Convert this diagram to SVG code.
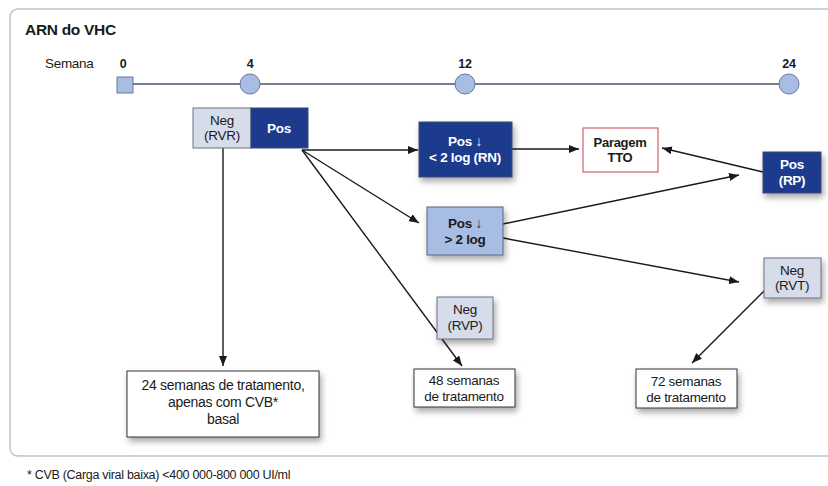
<svg xmlns="http://www.w3.org/2000/svg" width="828" height="486" viewBox="0 0 828 486">
<defs>
<marker id="ah" viewBox="0 0 10 8" refX="10" refY="4" markerWidth="10" markerHeight="8" markerUnits="userSpaceOnUse" orient="auto">
<path d="M0,0 L10,4 L0,8 Z" fill="#1a1a1a"/>
</marker>
<filter id="sh" x="-20%" y="-20%" width="150%" height="160%">
<feGaussianBlur in="SourceAlpha" stdDeviation="3"/>
<feOffset dx="2" dy="4" result="b"/>
<feComponentTransfer><feFuncA type="linear" slope="0.35"/></feComponentTransfer>
<feMerge><feMergeNode/><feMergeNode in="SourceGraphic"/></feMerge>
</filter>
</defs>
<style>
text{font-family:"Liberation Sans",Arial,sans-serif;fill:#1a1a1a;letter-spacing:-0.3px}
.b{font-weight:bold}
.w{fill:#ffffff;font-weight:bold}
.c{text-anchor:middle}
.dark{fill:#1e3a8c;stroke:#3a4a70;stroke-width:1}
.lite{fill:#d6dcea;stroke:#6a7080;stroke-width:1}
.mid{fill:#a8bde3;stroke:#5a6480;stroke-width:1}
.wb{fill:#ffffff;stroke:#333333;stroke-width:1}
.conn line{stroke:#1a1a1a;stroke-width:1.4;marker-end:url(#ah)}
</style>
<rect x="0" y="0" width="828" height="486" fill="#ffffff"/>
<rect x="10" y="9" width="840" height="447" rx="8" fill="#ffffff" stroke="#b9c4d2" stroke-width="1.5"/>
<text x="25" y="35" class="b" font-size="15.5">ARN do VHC</text>
<g id="timeline">
<text x="45" y="68" font-size="13.5">Semana</text>
<text x="123" y="68" class="b c" font-size="12.5">0</text>
<text x="250" y="68" class="b c" font-size="12.5">4</text>
<text x="465" y="68" class="b c" font-size="12.5">12</text>
<text x="789" y="68" class="b c" font-size="12.5">24</text>
<line x1="132" y1="84" x2="789" y2="84" stroke="#4a5070" stroke-width="1.5"/>
<rect x="117" y="77" width="16" height="16" fill="#a8bde3" stroke="#6a7898"/>
<circle cx="250" cy="84" r="10" fill="#a8bde3" stroke="#6a7898"/>
<circle cx="465" cy="84" r="10" fill="#a8bde3" stroke="#6a7898"/>
<circle cx="789" cy="84" r="10" fill="#a8bde3" stroke="#6a7898"/>
</g>
<g class="conn" id="connectors">
<line x1="223" y1="148" x2="223" y2="366"/>
<line x1="302" y1="150" x2="418" y2="150"/>
<line x1="302" y1="150" x2="419" y2="223"/>
<line x1="302" y1="150" x2="462" y2="366"/>
<line x1="512" y1="149" x2="579" y2="149"/>
<line x1="763" y1="172" x2="662" y2="148"/>
<line x1="503" y1="224" x2="739" y2="175"/>
<line x1="503" y1="238" x2="739" y2="282"/>
<line x1="764" y1="291" x2="692" y2="363"/>
</g>
<g id="neg-rvr">
<rect x="193" y="108" width="58" height="40" class="lite"/>
<text x="222" y="125" class="c" font-size="13.5">Neg</text>
<text x="222" y="140" class="c" font-size="13.5">(RVR)</text>
</g>
<g id="pos">
<rect x="251" y="108" width="57" height="40" class="dark"/>
<text x="279" y="133" class="w c" font-size="13.5">Pos</text>
</g>
<g id="pos-rn">
<rect x="419" y="122" width="93" height="55" class="dark" filter="url(#sh)"/>
<text x="465" y="146" class="w c" font-size="13.5">Pos ↓</text>
<text x="465" y="162" class="w c" font-size="13.5">&lt; 2 log (RN)</text>
</g>
<g id="pos-2log">
<rect x="427" y="207" width="76" height="48" class="mid" filter="url(#sh)"/>
<text x="465" y="228" class="b c" font-size="13.5">Pos ↓</text>
<text x="465" y="244" class="b c" font-size="13.5">&gt; 2 log</text>
</g>
<g id="paragem">
<rect x="583" y="128" width="75" height="44" fill="#ffffff" stroke="#d0606a" stroke-width="1.2"/>
<text x="620" y="147" class="b c" font-size="13">Paragem</text>
<text x="620" y="162" class="b c" font-size="13">TTO</text>
</g>
<g id="pos-rp">
<rect x="763" y="152" width="58" height="41" class="dark" filter="url(#sh)"/>
<text x="792" y="169" class="w c" font-size="13.5">Pos</text>
<text x="792" y="185" class="w c" font-size="13.5">(RP)</text>
</g>
<g id="neg-rvt">
<rect x="764" y="258" width="57" height="40" class="lite" filter="url(#sh)"/>
<text x="792" y="275" class="c" font-size="13.5">Neg</text>
<text x="792" y="290" class="c" font-size="13.5">(RVT)</text>
</g>
<g id="neg-rvp">
<rect x="437" y="297" width="56" height="42" class="lite" filter="url(#sh)"/>
<text x="465" y="314" class="c" font-size="13.5">Neg</text>
<text x="465" y="330" class="c" font-size="13.5">(RVP)</text>
</g>
<g id="w24">
<rect x="127" y="371" width="192" height="66" class="wb" filter="url(#sh)"/>
<text x="223" y="390" class="c" font-size="14">24 semanas de tratamento,</text>
<text x="223" y="407" class="c" font-size="14">apenas com CVB*</text>
<text x="223" y="424" class="c" font-size="14">basal</text>
</g>
<g id="w48">
<rect x="414" y="369" width="101" height="38" class="wb" filter="url(#sh)"/>
<text x="464" y="385" class="c" font-size="13.5">48 semanas</text>
<text x="464" y="401" class="c" font-size="13.5">de tratamento</text>
</g>
<g id="w72">
<rect x="636" y="369" width="101" height="39" class="wb" filter="url(#sh)"/>
<text x="686" y="386" class="c" font-size="13.5">72 semanas</text>
<text x="686" y="402" class="c" font-size="13.5">de tratamento</text>
</g>
<text x="27" y="479" font-size="12.5">* CVB (Carga viral baixa) &lt;400 000-800 000 UI/ml</text>
</svg>
